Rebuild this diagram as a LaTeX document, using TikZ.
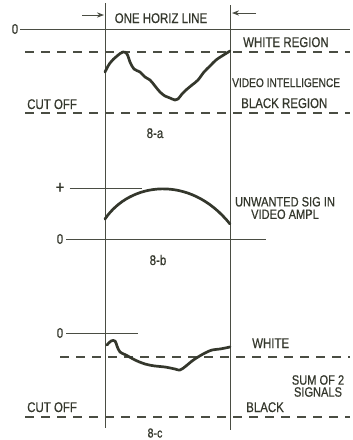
\documentclass[tikz,border=0pt]{standalone}
\usepackage{fontspec}
\setmainfont{Liberation Sans}[FakeStretch=0.82, FakeBold=0.6]
\usepackage{tikz}
\usetikzlibrary{arrows.meta, positioning}
\definecolor{ink}{HTML}{34372C}
\definecolor{rule}{HTML}{4A4D43}

\begin{document}
\begin{tikzpicture}[
    x=1pt, y=-1pt,
    lbl/.style   = {font=\fontsize{14}{14}\selectfont, text=ink, inner sep=0pt, anchor=base west},
    tag/.style   = {font=\fontsize{14}{14}\selectfont, text=ink, inner sep=0pt, anchor=base},
    two/.style   = {font=\fontsize{13.5}{12.5}\selectfont, text=ink, inner sep=0pt, align=center},
    sign/.style  = {text=ink, inner sep=0pt, font=\fontsize{14}{14}\selectfont},
    fine/.style  = {draw=rule, line width=0.9pt},
    dashline/.style = {draw=rule, line width=1.1pt, dash pattern=on 9pt off 7pt},
    wave/.style  = {draw=ink, line width=2.7pt, line cap=round, line join=round},
    arr/.style   = {-Stealth, draw=rule, line width=0.9pt}
  ]
  \useasboundingbox (0,0) rectangle (353,440);

  % Frame of one line
  \coordinate (lt) at (105,3);   \coordinate (lb) at (105,428);
  \coordinate (rt) at (230,5);   \coordinate (rb) at (230,430);
  \draw[fine] (lt) -- (lb);
  \draw[fine] (rt) -- (rb);
  \node[tag] (horiz) at (161,23) {ONE HORIZ LINE};
  \coordinate (la) at (82,15);   \coordinate (lh) at (104,15);
  \coordinate (ra) at (256,13);  \coordinate (rh) at (232,13);
  \draw[arr] (la) -- (lh);
  \draw[arr] (ra) -- (rh);

  % 8-a
  \node[sign] (zeroA) at (15,29) {0};
  \coordinate (zeroAend) at (350,29);
  \draw[fine] (zeroA.east) ++(2,0) -- (zeroAend);
  \coordinate (whiteAl) at (25,52);  \coordinate (whiteAr) at (350,52);
  \draw[dashline] (whiteAl) -- (whiteAr);
  \coordinate (cutAl) at (25,113);   \coordinate (cutAr) at (350,113);
  \draw[dashline] (cutAl) -- (cutAr);
  \node[lbl] (whiteA) at (243,47) {WHITE REGION};
  \node[lbl, font=\fontsize{12.4}{13}\selectfont] (video) at (232,87) {VIDEO INTELLIGENCE};
  \node[lbl] (blackA) at (241,108) {BLACK REGION};
  \node[lbl] (cutA) at (27,109) {CUT OFF};
  \node[tag] (figA) at (155,138) {8-a};
  \draw[wave] plot[smooth, tension=0.6] coordinates {
    (105,72) (110,63) (117,56) (123,52) (127,54) (130,62) (134,69) (140,72)
    (145,77) (150,80) (155,86) (160,92) (165,96) (170,98) (175,100) (178,99)
    (182,94) (186,90) (192,85) (198,80) (204,72) (210,66) (216,60) (222,56) (230,51)};

  % 8-b
  \node[sign, font=\fontsize{18}{18}\selectfont] (plusB) at (60,188) {+};
  \coordinate (plusBend) at (142,188);
  \draw[fine] (plusB.east) ++(5,0) -- (plusBend);
  \node[sign] (zeroB) at (60,239) {0};
  \coordinate (zeroBend) at (266,239);
  \draw[fine] (zeroB.east) ++(3,0) -- (zeroBend);
  \draw[wave] (105,219) .. controls (130,182) and (190,174) .. (230,224);
  \node[two] (unwanted) at (285,208) {UNWANTED SIG IN\\VIDEO AMPL};
  \node[tag] (figB) at (158,265) {8-b};

  % 8-c
  \node[sign] (zeroC) at (60,333) {0};
  \coordinate (zeroCend) at (138,333);
  \draw[fine] (zeroC.east) ++(3,0) -- (zeroCend);
  \coordinate (whiteCl) at (60,357);  \coordinate (whiteCr) at (350,357);
  \draw[dashline] (whiteCl) -- (whiteCr);
  \coordinate (cutCl) at (25,417);    \coordinate (cutCr) at (350,417);
  \draw[dashline] (cutCl) -- (cutCr);
  \node[lbl] (whiteC) at (252,348) {WHITE};
  \node[two, font=\fontsize{13.5}{12}\selectfont] (sum) at (318,386) {SUM OF 2\\SIGNALS};
  \node[lbl] (cutC) at (27,412) {CUT OFF};
  \node[lbl] (blackC) at (246,412) {BLACK};
  \node[tag, font=\fontsize{13}{13}\selectfont] (figC) at (155,437.5) {8-c};
  \draw[wave] plot[smooth, tension=0.6] coordinates {
    (107,345) (111,341) (115,341) (117,346) (120,352) (126,355) (135,360)
    (145,364) (155,366) (165,367) (175,369) (180,370) (186,366) (192,361)
    (198,357) (205,353) (212,350) (220,349) (230,347)};
\end{tikzpicture}
\end{document}
